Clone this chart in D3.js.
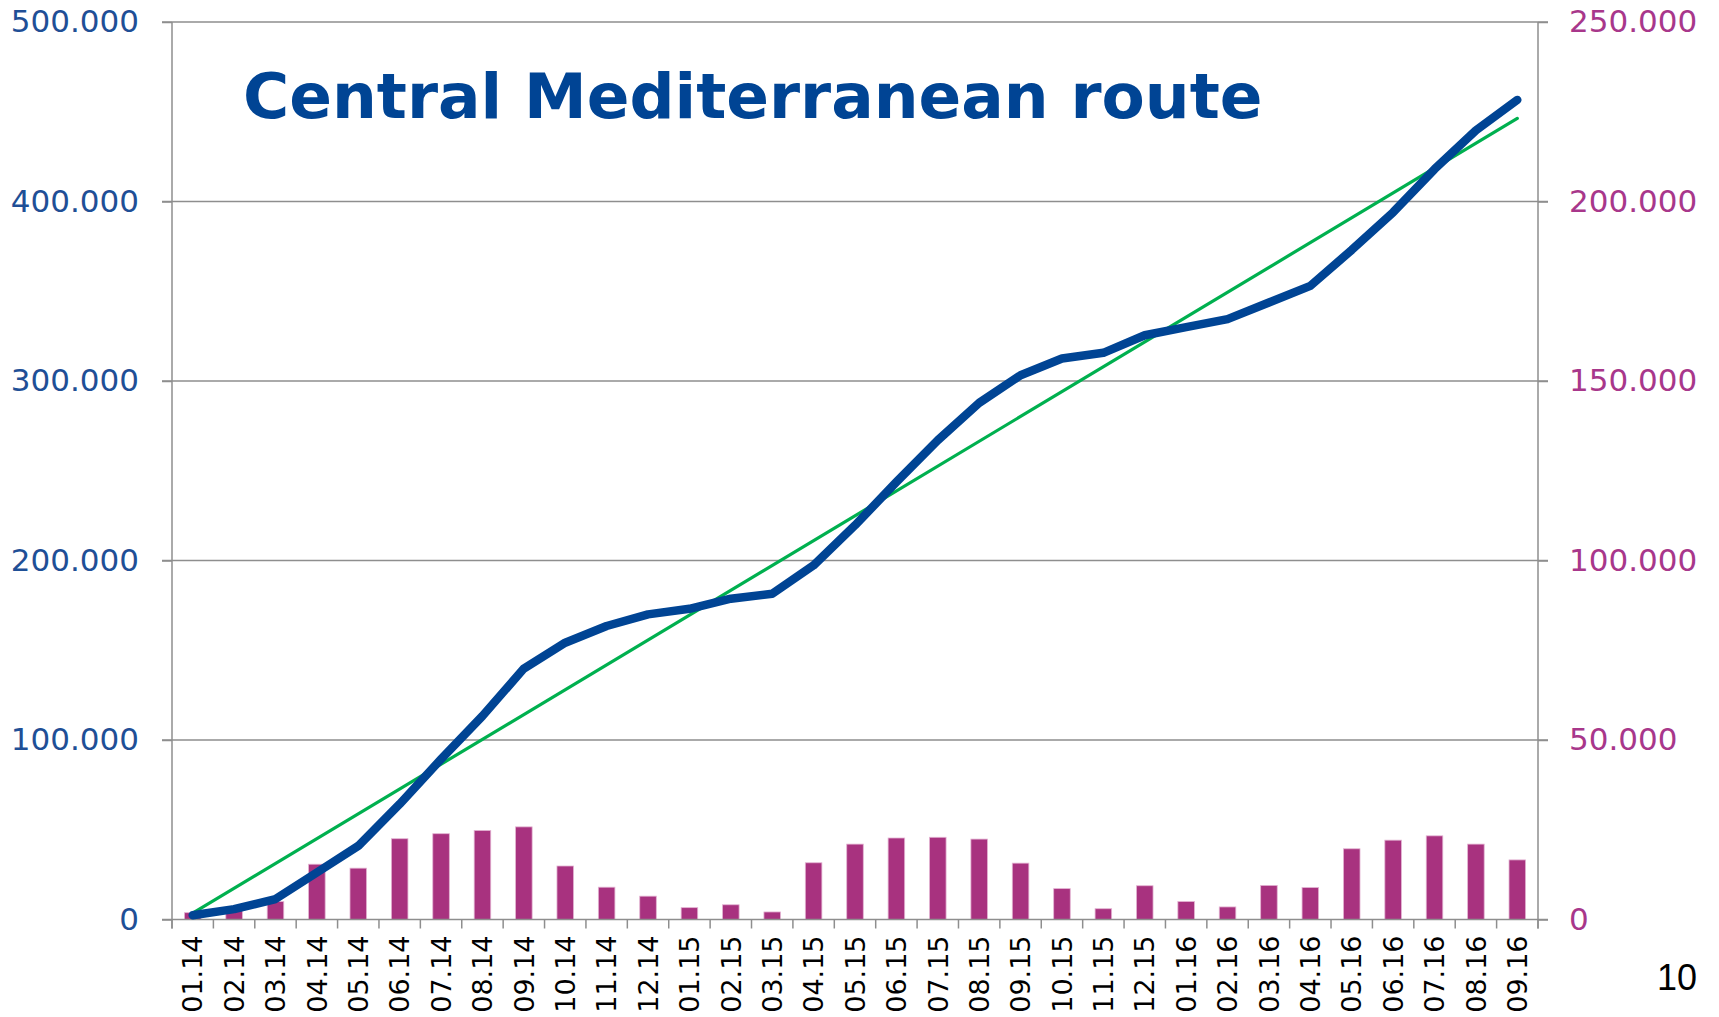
<!DOCTYPE html>
<html>
<head>
<meta charset="utf-8">
<script src="https://cdnjs.cloudflare.com/ajax/libs/d3/7.8.5/d3.min.js"></script>
<style>
    body { margin: 0; background: #fff; }
    svg { display: block; }
    .grid line { stroke: #8e8e8e; stroke-width: 1.5; }
    .axis path, .axis line { stroke: #8e8e8e; stroke-width: 1.5; }
</style>
</head>
<body>
<div id="chart"></div>
<script>
// months on the x axis
const months = ["01.14","02.14","03.14","04.14","05.14","06.14","07.14","08.14","09.14","10.14","11.14","12.14",
    "01.15","02.15","03.15","04.15","05.15","06.15","07.15","08.15","09.15","10.15","11.15","12.15",
    "01.16","02.16","03.16","04.16","05.16","06.16","07.16","08.16","09.16"];

// monthly arrivals (right axis, bars)
const monthly = [1900, 3300, 5000, 15400, 14300, 22500, 23900, 24800, 25800, 14900, 9000, 6500,
    3300, 4100, 2100, 15800, 21000, 22700, 22900, 22400, 15700, 8600, 3000, 9400,
    5000, 3500, 9500, 8900, 19700, 22100, 23300, 21000, 16600];

// cumulative arrivals (left axis, blue line)
const cumulative = [2400, 5800, 11400, 26200, 41000, 64300, 89300, 113400, 139800, 154200, 163500, 170000,
    173100, 178700, 181500, 197300, 219600, 243700, 267000, 287800, 303200, 312500, 315700, 325500,
    330000, 334500, 343700, 353000, 373000, 394000, 418000, 439600, 456600];

// linear trend (left axis, green line), first and last month
const trendMonths = ["01.14", "09.16"];
const trendValues = [3500, 446300];

const leftTicks = [0, 100000, 200000, 300000, 400000, 500000];
const rightTicks = [0, 50000, 100000, 150000, 200000, 250000];

const chartTitle = "Central Mediterranean route";
const pageNumber = "10";

// layout
const W = 1719, H = 1017;
const margin = { top: 22, right: 181, bottom: 97.5, left: 172 };
const width = W - margin.left - margin.right;
const height = H - margin.top - margin.bottom;

const svg = d3.select("#chart").append("svg")
    .attr("width", W)
    .attr("height", H);

const g = svg.append("g")
    .attr("transform", `translate(${margin.left},${margin.top})`);

// scales
const x = d3.scaleBand().domain(months).range([0, width]).padding(0);
const yLeft = d3.scaleLinear().domain([0, 500000]).range([height, 0]);
const yRight = d3.scaleLinear().domain([0, 250000]).range([height, 0]);

const dotLocale = d3.formatLocale({ decimal: ",", thousands: ".", grouping: [3], currency: ["", ""] });
const fmt = dotLocale.format(",");

// gridlines
g.append("g")
    .attr("class", "grid")
    .selectAll("line")
    .data(leftTicks.filter(d => d > 0))
    .join("line")
    .attr("x1", -10)
    .attr("x2", width + 10)
    .attr("y1", d => yLeft(d))
    .attr("y2", d => yLeft(d));

// bars
const barW = x.bandwidth() * 0.4;
g.append("g")
    .selectAll("rect")
    .data(monthly)
    .join("rect")
    .attr("x", (d, i) => x(months[i]) + (x.bandwidth() - barW) / 2)
    .attr("y", d => yRight(d))
    .attr("width", barW)
    .attr("height", d => height - yRight(d))
    .attr("fill", "#a8327f")
    .attr("stroke", "#e3b3d2")
    .attr("stroke-width", 0.8);

// left axis
const leftAxis = g.append("g")
    .attr("class", "axis")
    .call(d3.axisLeft(yLeft).tickValues(leftTicks).tickFormat(fmt).tickSize(10).tickPadding(23));
leftAxis.select(".domain").attr("d", `M0,0V${height + 9}`);
leftAxis.selectAll("text")
    .attr("fill", "#1f4f96")
    .style("font-family", "'DejaVu Sans', Verdana, sans-serif")
    .style("font-size", "31px");

// right axis
const rightAxis = g.append("g")
    .attr("class", "axis")
    .attr("transform", `translate(${width},0)`)
    .call(d3.axisRight(yRight).tickValues(rightTicks).tickFormat(fmt).tickSize(10).tickPadding(21));
rightAxis.select(".domain").attr("d", `M0,0V${height + 9}`);
rightAxis.selectAll("text")
    .attr("fill", "#a8378b")
    .style("font-family", "'DejaVu Sans', Verdana, sans-serif")
    .style("font-size", "31px");

// x axis: labels at band centres, tick marks at band edges
const xAxis = g.append("g")
    .attr("class", "axis")
    .attr("transform", `translate(0,${height})`)
    .call(d3.axisBottom(x).tickSize(0).tickSizeOuter(0));
xAxis.select(".domain").attr("d", `M-10,0H${width + 10}`);
xAxis.selectAll("text")
    .attr("transform", "rotate(-90)")
    .attr("x", -16)
    .attr("y", 0)
    .attr("dy", "0.36em")
    .attr("text-anchor", "end")
    .attr("fill", "#000")
    .style("font-family", "'DejaVu Sans', Verdana, sans-serif")
    .style("font-size", "27px");

xAxis.append("g")
    .selectAll("line")
    .data(months.map(m => x(m)).concat([width]))
    .join("line")
    .attr("x1", d => d)
    .attr("x2", d => d)
    .attr("y1", 0)
    .attr("y2", 9);

// trend line
const trend = trendMonths.map((m, i) => [x(m) + x.bandwidth() / 2, yLeft(trendValues[i])]);
g.append("path")
    .attr("d", d3.line()(trend))
    .attr("fill", "none")
    .attr("stroke", "#00b04f")
    .attr("stroke-width", 3.2)
    .attr("stroke-linecap", "round");

// cumulative line
const cumLine = d3.line()
    .x((d, i) => x(months[i]) + x.bandwidth() / 2)
    .y(d => yLeft(d));

g.append("path")
    .datum(cumulative)
    .attr("d", cumLine)
    .attr("fill", "none")
    .attr("stroke", "#004494")
    .attr("stroke-width", 8.5)
    .attr("stroke-linecap", "round")
    .attr("stroke-linejoin", "round");

// title
svg.append("text")
    .attr("x", 243)
    .attr("y", 118)
    .attr("fill", "#004494")
    .style("font-family", "'DejaVu Sans', Verdana, sans-serif")
    .style("font-weight", "bold")
    .style("font-size", "63px")
    .text(chartTitle);

// page number
svg.append("text")
    .attr("x", 1697)
    .attr("y", 990)
    .attr("text-anchor", "end")
    .attr("fill", "#000")
    .style("font-family", "'Liberation Sans', Arial, sans-serif")
    .style("font-size", "36px")
    .text(pageNumber);
</script>
</body>
</html>
